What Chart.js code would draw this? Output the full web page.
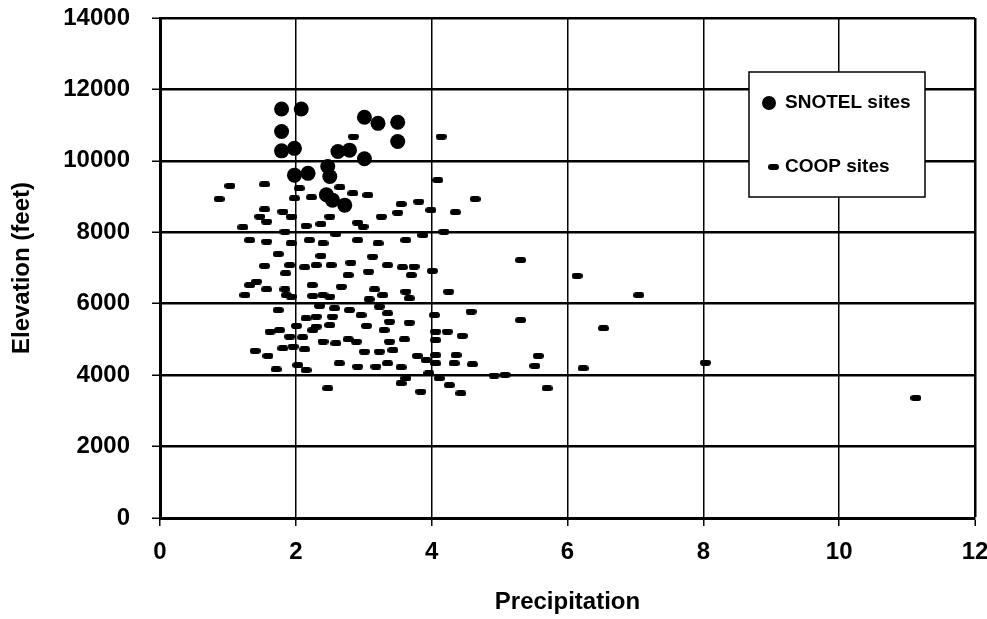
<!DOCTYPE html>
<html>
<head>
<meta charset="utf-8">
<title>Elevation vs Precipitation</title>
<script src="https://cdn.jsdelivr.net/npm/chart.js@4"></script>
<style>
  html, body { margin: 0; padding: 0; background: #fff; }
  canvas { display: block; }
</style>
</head>
<body>
<canvas id="chart" width="987" height="619"></canvas>
<script>
// Values (precipitation, elevation in feet)
const snotelPrecip = [1.79, 2.08, 1.79, 1.79, 1.98, 3.01, 3.21, 3.50, 3.50, 2.62, 2.79, 3.01, 1.98, 2.18, 2.47, 2.50, 2.45, 2.54, 2.72];
const snotelElev = [11450, 11450, 10820, 10280, 10350, 11220, 11050, 11080, 10540, 10260, 10300, 10060, 9600, 9650, 9840, 9560, 9050, 8900, 8760];

const coopPrecip = [
    2.85, 4.14, 1.03, 1.54, 0.87, 2.05, 1.98, 2.23, 2.65, 2.84, 3.06, 4.09, 4.64,
    1.54, 1.47, 1.57, 1.81, 1.93, 2.50, 2.91, 3.26, 3.50, 3.55, 3.81, 3.99, 4.35,
    1.22, 1.32, 1.57, 1.84, 1.93, 2.15, 2.37, 2.20, 2.40, 2.59, 2.91, 2.99, 3.21, 3.62, 3.87, 4.18,
    1.74, 2.37, 3.13,
    1.54, 1.91, 2.13, 2.30, 2.52, 2.81, 3.35, 3.57, 3.74, 4.01, 1.85, 2.77, 3.07, 3.70,
    1.42, 1.32, 1.57, 1.25, 1.84, 1.86, 1.93, 2.24, 2.67, 2.25, 2.40, 2.50, 3.16, 3.28, 3.08, 3.62, 3.67, 4.25,
    1.74, 2.35, 2.57, 2.79, 2.96, 3.35, 3.23, 4.04, 4.58, 2.15, 2.30, 2.54,
    2.01, 2.30, 2.50, 3.04, 3.38, 3.30, 3.67, 1.62, 1.76, 1.91, 2.10, 2.25, 4.06, 4.23, 4.45,
    2.40, 2.59, 2.77, 2.89, 3.38, 3.60, 4.06, 1.81, 1.96, 2.13, 1.40, 1.59,
    3.01, 3.23, 3.43, 3.79, 3.92, 4.06, 4.36, 2.64, 2.91, 3.18, 3.35, 3.55, 4.06, 4.33, 4.60,
    1.71, 2.03, 2.15, 3.96, 3.62, 3.55, 4.11, 4.26, 2.47, 3.84, 4.43,
    5.31, 6.14, 7.05, 5.31, 6.53, 5.57, 5.52, 6.23, 8.03, 4.92, 5.08, 5.70, 11.13
];
const coopElev = [
    10680, 10680, 9300, 9340, 8930, 9230, 8950, 8980, 9260, 9090, 9040, 9460, 8930,
    8640, 8440, 8300, 8580, 8440, 8440, 8270, 8440, 8550, 8790, 8860, 8620, 8560,
    8140, 7780, 7740, 8020, 7690, 8180, 8230, 7780, 7690, 7950, 7780, 8160, 7690, 7780, 7920, 8020,
    7390, 7340, 7320,
    7060, 7080, 7020, 7080, 7080, 7150, 7080, 7020, 7040, 6920, 6850, 6800, 6900, 6800,
    6620, 6520, 6400, 6240, 6400, 6240, 6200, 6520, 6480, 6220, 6240, 6200, 6400, 6240, 6120, 6340, 6150, 6340,
    5820, 5940, 5870, 5820, 5680, 5730, 5920, 5680, 5780, 5590, 5640, 5640,
    5380, 5360, 5400, 5380, 5500, 5260, 5470, 5220, 5260, 5080, 5060, 5260, 5220, 5220, 5100,
    4940, 4890, 5000, 4940, 4940, 5000, 4980, 4750, 4800, 4720, 4680, 4540,
    4660, 4660, 4700, 4540, 4420, 4560, 4560, 4330, 4240, 4240, 4330, 4220, 4330, 4330, 4300,
    4160, 4280, 4140, 4050, 3910, 3770, 3910, 3720, 3630, 3540, 3490,
    7220, 6780, 6240, 5540, 5310, 4540, 4260, 4190, 4350, 3990, 4010, 3630, 3360
];

const xTicks = [0, 2, 4, 6, 8, 10, 12];
const yTicks = [0, 2000, 4000, 6000, 8000, 10000, 12000, 14000];

const FONT_FAMILY = '"Liberation Sans", Arial, "Helvetica", sans-serif';
const INK = '#000';

const toPoints = (xs, ys) => xs.map((x, i) => ({ x, y: ys[i] }));

/** COOP sites are drawn as short horizontal dashes, not dots */
function dashMarker(width, height) {
    const c = document.createElement('canvas');
    c.width = width;
    c.height = height;
    const ctx = c.getContext('2d');
    ctx.fillStyle = INK;
    ctx.beginPath();
    ctx.roundRect(0, 0, width, height, height / 2);
    ctx.fill();
    return c;
}

const coopMarker = dashMarker(11, 6);

/** Legend sits inside the plot, upper right, on a white box */
const insideLegend = {
    id: 'insideLegend',
    afterDraw(chart) {
        const { ctx, chartArea } = chart;
        const box = { left: chartArea.right - 226, top: chartArea.top + 54, width: 176, height: 125 };

        ctx.save();
        ctx.fillStyle = '#fff';
        ctx.fillRect(box.left, box.top, box.width, box.height);
        ctx.strokeStyle = INK;
        ctx.lineWidth = 1.5;
        ctx.strokeRect(box.left, box.top, box.width, box.height);

        ctx.font = `bold 19px ${FONT_FAMILY}`;
        ctx.textBaseline = 'middle';
        ctx.fillStyle = INK;

        const rows = [box.top + 31, box.top + 95];
        chart.data.datasets.forEach((ds, i) => {
            const y = rows[i];
            if (ds.pointStyle === 'circle') {
                ctx.beginPath();
                ctx.arc(box.left + 20, y, 7, 0, Math.PI * 2);
                ctx.fill();
            } else {
                ctx.drawImage(ds.pointStyle, box.left + 19, y - 3);
            }
            ctx.fillText(ds.label, box.left + 36, y);
        });
        ctx.restore();
    }
};

new Chart(document.getElementById('chart'), {
    type: 'scatter',
    data: {
        datasets: [
            {
                label: 'SNOTEL sites',
                data: toPoints(snotelPrecip, snotelElev),
                pointStyle: 'circle',
                pointRadius: 7.5,
                backgroundColor: INK,
                borderColor: INK,
                borderWidth: 0
            },
            {
                label: 'COOP sites',
                data: toPoints(coopPrecip, coopElev),
                pointStyle: coopMarker,
                backgroundColor: INK,
                borderColor: INK
            }
        ]
    },
    options: {
        responsive: false,
        devicePixelRatio: 1,
        animation: false,
        layout: { padding: { top: 18, right: 12, left: 0, bottom: 0 } },
        plugins: {
            legend: { display: false },
            tooltip: { enabled: false }
        },
        scales: {
            x: {
                type: 'linear',
                min: 0,
                max: 12,
                afterBuildTicks: (scale) => { scale.ticks = xTicks.map((value) => ({ value })); },
                afterFit: (scale) => {
                    scale.height = 101;
                    scale.paddingLeft = 0;
                    scale.paddingRight = 0;
                },
                grid: {
                    color: INK,
                    lineWidth: (c) => (c.tick && c.tick.value === 12 ? 2.5 : 1.5),
                    tickLength: 8,
                    tickColor: INK,
                    tickWidth: 1.5
                },
                border: { display: true, color: INK, width: 3 },
                ticks: {
                    color: INK,
                    padding: 12,
                    callback: (value) => String(value),
                    font: { family: FONT_FAMILY, size: 24, weight: 'bold' }
                },
                title: {
                    display: true,
                    text: 'Precipitation',
                    color: INK,
                    padding: { top: 0, bottom: 2 },
                    font: { family: FONT_FAMILY, size: 24, weight: 'bold' }
                }
            },
            y: {
                type: 'linear',
                min: 0,
                max: 14000,
                afterBuildTicks: (scale) => { scale.ticks = yTicks.map((value) => ({ value })); },
                afterFit: (scale) => {
                    scale.width = 160;
                    scale.paddingTop = 0;
                    scale.paddingBottom = 0;
                },
                grid: {
                    color: INK,
                    lineWidth: 2.5,
                    tickLength: 8,
                    tickColor: INK,
                    tickWidth: 1.5
                },
                border: { display: true, color: INK, width: 3 },
                ticks: {
                    color: INK,
                    padding: 22,
                    // the original axis prints plain numbers, no thousands separator
                    callback: (value) => String(value),
                    font: { family: FONT_FAMILY, size: 24, weight: 'bold' }
                },
                title: {
                    display: true,
                    text: 'Elevation (feet)',
                    color: INK,
                    padding: { top: 8, bottom: 0 },
                    font: { family: FONT_FAMILY, size: 24, weight: 'bold' }
                }
            }
        }
    },
    plugins: [insideLegend]
});
</script>
</body>
</html>
